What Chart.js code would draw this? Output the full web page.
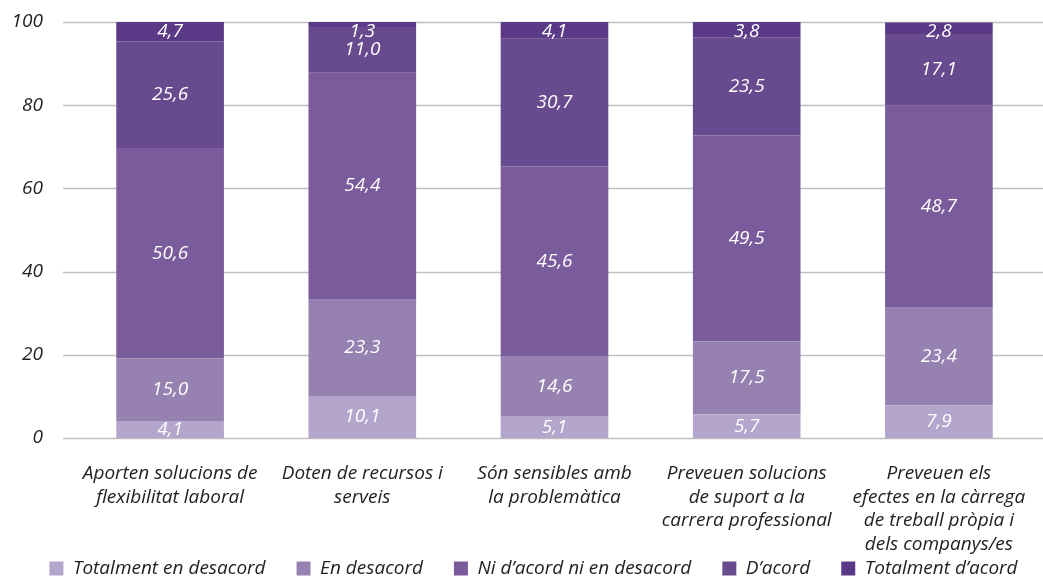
<!DOCTYPE html>
<html>
<head>
<meta charset="utf-8">
<script src="https://cdn.jsdelivr.net/npm/chart.js@4/dist/chart.umd.min.js"></script>
<style>
  html, body { margin: 0; padding: 0; background: #fff; }
  #wrap { width: 1043px; height: 576px; }
</style>
</head>
<body>
<div id="wrap"><canvas id="chart" width="1043" height="576"></canvas></div>
<script>
const categories = [
  ['Aporten solucions de', 'flexibilitat laboral'],
  ['Doten de recursos i', 'serveis'],
  ['Són sensibles amb', 'la problemàtica'],
  ['Preveuen solucions', 'de suport a la', 'carrera professional'],
  ['Preveuen els', 'efectes en la càrrega', 'de treball pròpia i', 'dels companys/es']
];
const seriesNames = ['Totalment en desacord', 'En desacord', 'Ni d\u2019acord ni en desacord', 'D\u2019acord', 'Totalment d\u2019acord'];
const totalmentDesacord = [4.1, 10.1, 5.1, 5.7, 7.9];
const enDesacord = [15.0, 23.3, 14.6, 17.5, 23.4];
const niAcord = [50.6, 54.4, 45.6, 49.5, 48.7];
const dAcord = [25.6, 11.0, 30.7, 23.5, 17.1];
const totalmentAcord = [4.7, 1.3, 4.1, 3.8, 2.8];
const yTicks = [0, 20, 40, 60, 80, 100];

const colors = ['#b3a5cb', '#9681b1', '#7a5c9c', '#684a8e', '#5a3a87'];
const FONT = '"Open Sans", Lato, sans-serif';

// horizontal gridlines, a bit wider than the plot area like the original
const gridPlugin = {
  id: 'grid',
  beforeDatasetsDraw(chart) {
    const ctx = chart.ctx;
    const y = chart.scales.y;
    ctx.save();
    ctx.strokeStyle = '#bfbfbf';
    ctx.lineWidth = 1.5;
    yTicks.forEach(v => {
      const py = Math.round(y.getPixelForValue(v)) + 0.5;
      ctx.beginPath();
      ctx.moveTo(63, py);
      ctx.lineTo(chart.width, py);
      ctx.stroke();
    });
    ctx.restore();
  }
};

// value labels in the middle of each segment
const labelPlugin = {
  id: 'segLabels',
  afterDatasetsDraw(chart) {
    const ctx = chart.ctx;
    const top = chart.chartArea.top;
    ctx.save();
    ctx.font = 'italic 19px ' + FONT;
    ctx.fillStyle = '#ffffff';
    ctx.textAlign = 'center';
    ctx.textBaseline = 'middle';
    chart.data.datasets.forEach((ds, i) => {
      chart.getDatasetMeta(i).data.forEach((bar, j) => {
        let cy = (bar.y + bar.base) / 2;
        if (cy < top + 10) cy = top + 10;
        ctx.fillText(ds.data[j].toFixed(1).replace('.', ','), bar.x, cy);
      });
    });
    ctx.restore();
  }
};

// the legend in the original sits a little right of centre
const legendShift = {
  id: 'legendShift',
  afterLayout(chart) {
    chart.legend.left += 16;
    chart.legend.right += 16;
  }
};

const seriesData = [totalmentDesacord, enDesacord, niAcord, dAcord, totalmentAcord];

new Chart(document.getElementById('chart'), {
  type: 'bar',
  data: {
    labels: categories,
    datasets: seriesData.map((d, i) => ({
      label: seriesNames[i],
      data: d,
      backgroundColor: colors[i],
      borderWidth: 0,
      categoryPercentage: 1,
      barPercentage: 0.56
    }))
  },
  options: {
    responsive: false,
    animation: false,
    layout: { padding: { top: 22, right: 8, left: 0, bottom: -12 } },
    plugins: {
      legend: {
        position: 'bottom',
        labels: {
          color: '#222',
          font: { family: FONT, size: 19, style: 'italic' },
          boxWidth: 14,
          boxHeight: 14,
          padding: 31
        }
      },
      tooltip: { enabled: false }
    },
    scales: {
      x: {
        stacked: true,
        grid: { display: false },
        border: { display: false },
        ticks: {
          color: '#222',
          padding: 16,
          maxRotation: 0,
          autoSkip: false,
          font: { family: FONT, size: 19, style: 'italic', lineHeight: 1.24 }
        },
        afterFit(scale) {
          scale.height = 90;
          scale._computeLabelArea = () => undefined; // let the 4-line label overflow
        }
      },
      y: {
        stacked: true,
        min: 0,
        max: 100,
        grid: { display: false },
        border: { display: false },
        afterBuildTicks(scale) { scale.ticks = yTicks.map(v => ({ value: v })); },
        afterFit(scale) {
          scale.width = 74;
          scale.paddingTop = 0;
          scale.paddingBottom = 0;
        },
        ticks: {
          color: '#222',
          padding: 23,
          font: { family: FONT, size: 19, style: 'italic' }
        }
      }
    }
  },
  plugins: [gridPlugin, labelPlugin, legendShift]
});
</script>
</body>
</html>
